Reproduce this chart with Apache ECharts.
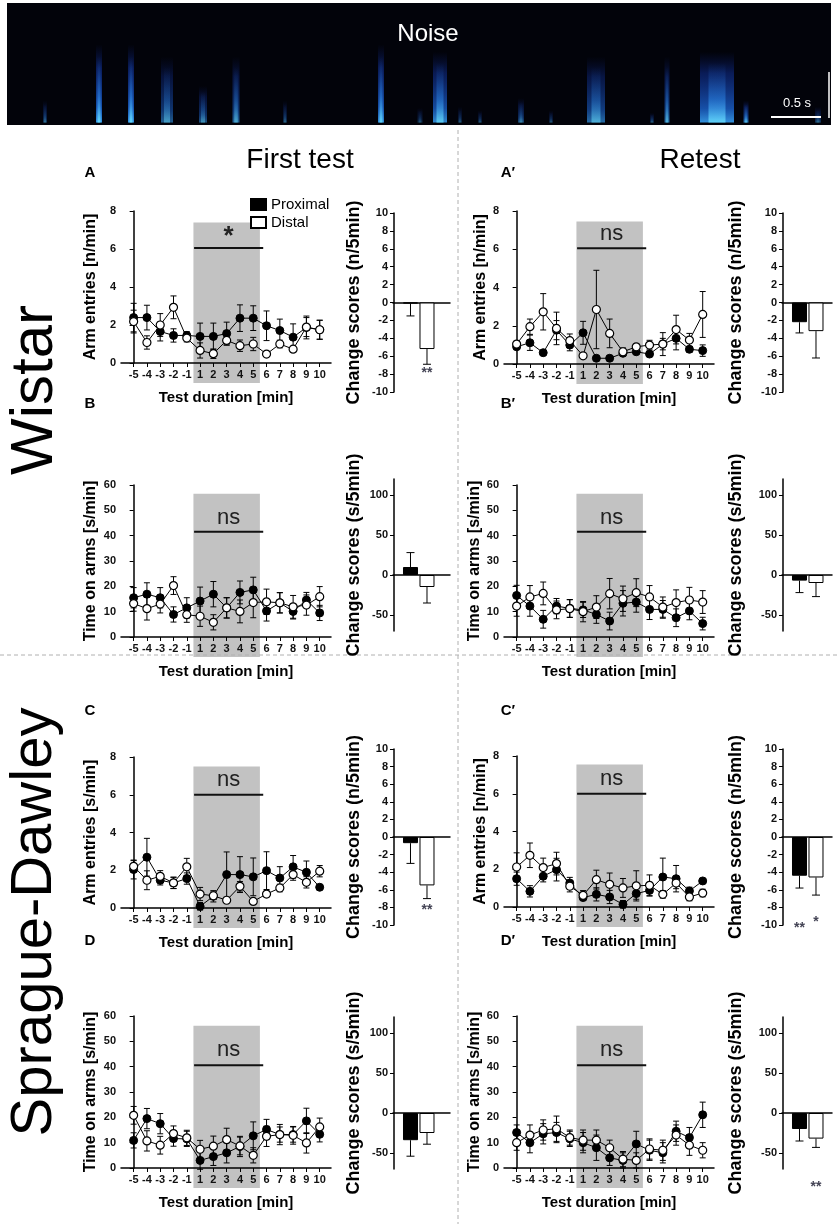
<!DOCTYPE html>
<html><head><meta charset="utf-8">
<script src="https://cdn.jsdelivr.net/npm/echarts@6/dist/echarts.min.js"></script>
<style>html,body{margin:0;padding:0;background:#fff}#c{width:838px;height:1224px}</style>
</head><body><div id="c"></div>
<script>
// ---------- DATA ----------
const xLabels = ['-5','-4','-3','-2','-1','1','2','3','4','5','6','7','8','9','10'];
const barCats = ['Proximal','Distal'];

// A – Wistar, first test, arm entries
const aProx    = [2.39,2.39,1.66,1.45,1.45,1.40,1.40,1.55,2.36,2.36,1.96,1.71,1.36,1.87,1.75];
const aProxErr = [0.75,0.65,0.50,0.35,0.20,0.70,0.70,0.60,0.70,0.65,0.78,0.60,0.70,0.60,0.50];
const aDist    = [2.18,1.08,2.00,2.93,1.31,0.66,0.49,1.19,0.91,1.00,0.47,1.00,0.73,1.89,1.75];
const aDistErr = [0.60,0.35,0.60,0.60,0.20,0.40,0.25,0.25,0.30,0.35,0.10,0.20,0.15,0.50,0.50];
// A' – Wistar, retest, arm entries
const a2Prox    = [0.90,1.11,0.59,1.77,0.99,1.63,0.30,0.30,0.56,0.64,0.52,1.04,1.34,0.77,0.70];
const a2ProxErr = [0.10,0.40,0.05,0.50,0.30,0.60,0.05,0.05,0.10,0.10,0.10,0.30,0.60,0.15,0.30];
const a2Dist    = [1.04,1.95,2.73,1.86,1.22,0.43,2.85,1.60,0.64,0.90,0.99,1.04,1.80,1.25,2.59];
const a2DistErr = [0.15,0.40,0.95,0.85,0.35,0.10,2.05,0.75,0.20,0.15,0.25,0.60,0.75,0.35,1.20];
// B – Wistar, first test, time on arms
const bProx    = [15.5,16.9,15.5,8.9,11.5,14.2,16.9,11.5,17.6,18.6,10.3,13.5,10.1,14.6,9.5];
const bProxErr = [4,4.5,4,3,4,5.5,5,4,4.5,5,4,4,3,3,3];
const bDist    = [13.2,11.2,13.0,20.3,8.8,8.2,5.8,11.5,10.1,13.6,13.9,13.5,11.9,12.6,15.9];
const bDistErr = [3,4.5,3.5,3.5,3,4,3,4,4.5,6,5,4,4.5,4,4];
// B' – Wistar, retest, time on arms
const b2Prox    = [16.4,12.2,7.0,12.2,11.3,10.7,8.9,6.3,13.3,13.8,10.9,10.9,7.6,10.3,5.3];
const b2ProxErr = [4,4,3.5,3,3.5,3,3.5,3.5,5,4,4,3.5,3.5,3.5,2.5];
const b2Dist    = [12.2,15.8,17.2,10.7,11.2,10.0,11.8,17.1,15.1,17.5,15.8,11.8,13.6,14.6,13.8];
const b2DistErr = [4,4.5,4.5,3.5,3.5,4,4.5,6,5,5.5,4.5,4,5,5,4.5];
// C – Sprague-Dawley, first test, arm entries
const cProx    = [2.04,2.69,1.47,1.33,1.56,0.09,0.62,1.77,1.77,1.65,1.98,1.59,2.18,1.89,1.10];
const cProxErr = [0.50,1.00,0.25,0.30,0.30,0.20,0.30,1.20,0.95,1.00,1.00,0.60,0.60,0.60,0.10];
const cDist    = [2.21,1.47,1.68,1.33,2.18,0.74,0.65,0.41,1.15,0.35,0.74,1.06,1.77,1.36,1.95];
const cDistErr = [0.30,0.50,0.30,0.30,0.45,0.35,0.20,0.10,0.25,0.10,0.15,0.20,0.30,0.30,0.30];
// C' – Sprague-Dawley, retest, arm entries
const c2Prox    = [1.50,0.83,1.63,1.98,1.27,0.50,0.67,0.53,0.14,0.71,0.88,1.59,1.50,0.85,1.38];
const c2ProxErr = [0.35,0.30,0.30,0.60,0.30,0.10,0.35,0.35,0.20,0.30,0.30,1.00,0.70,0.20,0.10];
const c2Dist    = [2.12,2.74,2.09,2.30,1.10,0.62,1.45,1.20,1.01,1.12,1.15,0.67,1.27,0.53,0.74];
const c2DistErr = [0.75,0.65,0.50,0.60,0.30,0.25,0.50,0.60,0.50,0.80,0.55,0.20,0.30,0.20,0.20];
// D – Sprague-Dawley, first test, time on arms
const dProx    = [10.9,19.5,17.5,11.6,11.5,3.0,4.5,6.0,8.5,12.7,15.2,13.2,13.2,18.6,13.3];
const dProxErr = [3,4,4,3,3,3.5,3.5,4,4,5.5,4,3,3,5,3];
const dDist    = [20.8,10.7,9.0,13.6,11.9,7.4,8.6,11.2,8.7,5.0,12.5,13.2,12.9,9.9,16.2];
const dDistErr = [3.5,4,3.5,3,3,3.5,4,4.5,3.5,3,4,4,3.5,4,3.5];
// D' – Sprague-Dawley, retest, time on arms
const d2Prox    = [14,10,13.5,14,11.5,10,8,4,3,9.5,7,6,14.5,12,21];
const d2ProxErr = [3,4,4,4,3,4,5,3,3,5,4,4,4,4,5];
const d2Dist    = [10,13,15,15.5,12,11,11,8,3.5,3,7.5,7,13,9,7];
const d2DistErr = [3,4,4,5,3,4,4,3,3,3,4,4,4,4,3];

// Change scores [Proximal, Distal]
const aChange  = [-0.1,-5.2];  const aChangeErr  = [1.4,1.7];  const aStars  = ['','**'];
const a2Change = [-2.2,-3.2];  const a2ChangeErr = [1.2,3.0];  const a2Stars = ['',''];
const bChange  = [10,-15];     const bChangeErr  = [18,20];    const bStars  = ['',''];
const b2Change = [-7,-10];     const b2ChangeErr = [15,17];    const b2Stars = ['',''];
const cChange  = [-0.7,-5.5];  const cChangeErr  = [2.3,1.5];  const cStars  = ['','**'];
const c2Change = [-4.4,-4.6];  const c2ChangeErr = [1.4,2.0];  const c2Stars = ['**','*'];
const dChange  = [-34,-25];    const dChangeErr  = [20,14];    const dStars  = ['',''];
const d2Change = [-20,-32];    const d2ChangeErr = [15,11];    const d2Stars = ['','**'];

const sigLabels = ['*','ns','ns','ns','ns','ns','ns','ns'];
const countTicks = [0,2,4,6,8];
const timeTicks = [0,10,20,30,40,50,60];
const changeCountTicks = [-10,-8,-6,-4,-2,0,2,4,6,8,10];
const changeTimeTicks = [-50,0,50,100];

// Spectrogram bursts: time (s), width (s), upper frequency fraction, intensity
const burstTime  = [0.38,0.92,1.24,1.60,1.96,2.29,2.78,3.74,4.13,4.33,4.53,4.73,5.14,5.44,5.89,6.45,6.60,7.10,7.39,8.11];
const burstWidth = [0.04,0.06,0.06,0.12,0.08,0.07,0.04,0.06,0.05,0.14,0.04,0.04,0.06,0.04,0.18,0.04,0.05,0.34,0.05,0.06];
const burstTop   = [0.20,0.66,0.66,0.56,0.32,0.56,0.20,0.66,0.14,0.60,0.15,0.12,0.22,0.12,0.56,0.10,0.56,0.60,0.20,0.15];
const burstLevel = [0.40,1.00,1.00,0.60,0.55,0.65,0.35,0.95,0.30,0.90,0.30,0.30,0.50,0.30,0.70,0.35,0.70,0.95,0.80,0.40];

// ---------- BUILD ----------
const FONT = '"Liberation Sans", Arial, sans-serif';
const grids=[], xAxes=[], yAxes=[], series=[];
const idx = xLabels.map((_,i)=>i);

function errRender(p, api){
  const x=api.value(0), y=api.value(1), e=api.value(2);
  const a=api.coord([x,y+e]), b=api.coord([x,y-e]);
  return {type:'group', children:[
    {type:'line', shape:{x1:a[0],y1:a[1],x2:b[0],y2:b[1]}, style:{stroke:'#000',lineWidth:1}},
    {type:'line', shape:{x1:a[0]-3,y1:a[1],x2:a[0]+3,y2:a[1]}, style:{stroke:'#000',lineWidth:1}},
    {type:'line', shape:{x1:b[0]-3,y1:b[1],x2:b[0]+3,y2:b[1]}, style:{stroke:'#000',lineWidth:1}}
  ]};
}

function addLinePanel(c, k){
  const gi = grids.length;
  grids.push({left:c.left, top:c.top, width:210, height:c.height});
  xAxes.push({gridIndex:gi, type:'value', min:-0.95, max:14.85,
    axisLine:{show:true, onZero:false, lineStyle:{color:'#000', width:1.5}},
    axisTick:{show:true, customValues:idx, length:4, lineStyle:{color:'#000'}},
    axisLabel:{show:true, customValues:idx, formatter:v=>xLabels[Math.round(v)], fontSize:11, fontWeight:'bold', color:'#111', margin:6, fontFamily:FONT},
    splitLine:{show:false},
    name:'Test duration [min]', nameLocation:'middle', nameGap:27,
    nameTextStyle:{fontSize:15, fontWeight:'bold', color:'#000', fontFamily:FONT}});
  yAxes.push({gridIndex:gi, type:'value', min:0, max:c.ticks[c.ticks.length-1],
    axisLine:{show:true, lineStyle:{color:'#000', width:1.5}},
    axisTick:{show:true, customValues:c.ticks, length:4, lineStyle:{color:'#000'}},
    axisLabel:{show:true, customValues:c.ticks, fontSize:11, fontWeight:'bold', color:'#111', margin:5, fontFamily:FONT},
    splitLine:{show:false},
    name:c.title, nameLocation:'middle', nameGap:c.nameGap,
    nameTextStyle:{fontSize:16, fontWeight:'bold', color:'#000', fontFamily:FONT}});
  // shaded noise period
  series.push({type:'custom', xAxisIndex:gi, yAxisIndex:gi, z:-1, silent:true, clip:false,
    data:[[4.5, 9.5, c.shadeTop]],
    renderItem:(p,api)=>{
      const a=api.coord([api.value(0), api.value(2)]), b=api.coord([api.value(1), 0]);
      return {type:'rect', shape:{x:a[0], y:a[1], width:b[0]-a[0], height:b[1]-a[1]+20}, style:{fill:'#c2c2c2'}};
    }});
  // significance line + label
  series.push({type:'custom', xAxisIndex:gi, yAxisIndex:gi, z:4, silent:true, clip:false,
    data:[[4.55, 9.75, c.sigY, c.sigTextY]],
    renderItem:(p,api)=>{
      const a=api.coord([api.value(0), api.value(2)]), b=api.coord([api.value(1), api.value(2)]);
      const t=api.coord([(api.value(0)+api.value(1))/2, api.value(3)]);
      const lab = sigLabels[k];
      return {type:'group', children:[
        {type:'line', shape:{x1:a[0],y1:a[1],x2:b[0],y2:b[1]}, style:{stroke:'#111',lineWidth:2}},
        {type:'text', style:{text:lab, x:t[0], y:t[1], align:'center', verticalAlign:'middle', fill:'#222',
          font: lab==='*' ? 'bold 26px '+FONT : '22px '+FONT}}
      ]};
    }});
  const mk = (arr, err, filled) => {
    series.push({type:'custom', xAxisIndex:gi, yAxisIndex:gi, z:2, silent:true, clip:false,
      data:arr.map((v,i)=>[i, v, err[i]]), renderItem:errRender});
    series.push({type:'line', name:(filled?'prox ':'dist ')+k, xAxisIndex:gi, yAxisIndex:gi, z:3,
      data:arr.map((v,i)=>[i,v]), symbol:'circle', symbolSize:8, showSymbol:true,
      lineStyle:{color:'#000', width:1},
      itemStyle: filled ? {color:'#000', borderColor:'#000', borderWidth:1} : {color:'#fff', borderColor:'#000', borderWidth:1.2}});
  };
  mk(c.prox, c.proxErr, true);
  mk(c.dist, c.distErr, false);
}

function addBarPanel(c){
  const gi = grids.length;
  grids.push({left:c.left, top:c.top, width:c.width, height:c.height});
  xAxes.push({gridIndex:gi, type:'value', min:-0.06, max:-0.06 + c.width/16.5,
    axisLine:{show:true, onZero:true, lineStyle:{color:'#000', width:1.5}},
    axisTick:{show:false}, axisLabel:{show:false}, splitLine:{show:false}});
  yAxes.push({gridIndex:gi, type:'value', min:c.ymin, max:c.ymax,
    axisLine:{show:true, lineStyle:{color:'#000', width:1.5}},
    axisTick:{show:true, customValues:c.ticks, length:4, lineStyle:{color:'#000'}},
    axisLabel:{show:true, customValues:c.ticks, fontSize:11, fontWeight:'bold', color:'#111', margin:5, fontFamily:FONT},
    splitLine:{show:false},
    name:c.title, nameLocation:'middle', nameGap:c.nameGap,
    nameTextStyle:{fontSize:18, fontWeight:'bold', color:'#000', fontFamily:FONT}});
  series.push({type:'bar', name:barCats[0], xAxisIndex:gi, yAxisIndex:gi, barWidth:15, barGap:'-100%', z:2,
    data:[[1, c.vals[0]]], itemStyle:{color:'#000', borderColor:'#000', borderWidth:1}});
  series.push({type:'bar', name:barCats[1], xAxisIndex:gi, yAxisIndex:gi, barWidth:15, barGap:'-100%', z:2,
    data:[[2, c.vals[1]]], itemStyle:{color:'#fff', borderColor:'#000', borderWidth:1}});
  series.push({type:'custom', xAxisIndex:gi, yAxisIndex:gi, z:3, silent:true, clip:false,
    data:c.vals.map((v,i)=>[i+1, v, c.errs[i], c.starY[i]]),
    renderItem:(p,api)=>{
      const x=api.value(0), v=api.value(1), e=api.value(2);
      const end = v>=0 ? v+e : v-e;
      const a=api.coord([x,v]), b=api.coord([x,end]);
      const ch=[{type:'line', shape:{x1:a[0],y1:a[1],x2:b[0],y2:b[1]}, style:{stroke:'#000',lineWidth:1}},
                {type:'line', shape:{x1:b[0]-4,y1:b[1],x2:b[0]+4,y2:b[1]}, style:{stroke:'#000',lineWidth:1}}];
      const s = c.stars[p.dataIndex];
      if (s) {
        const t = api.coord([x, api.value(3)]);
        ch.push({type:'text', style:{text:s, x:t[0], y:t[1], align:'center', verticalAlign:'middle', fill:'#445', font:'bold 14px '+FONT}});
      }
      return {type:'group', children:ch};
    }});
}

const linePanels = [
  {left:121, top:211, height:152, ticks:countTicks, title:'Arm entries [n/min]', nameGap:22, shadeTop:7.4, sigY:6.05, sigTextY:6.65, prox:aProx, proxErr:aProxErr, dist:aDist, distErr:aDistErr},
  {left:504, top:211, height:153, ticks:countTicks, title:'Arm entries [n/min]', nameGap:15, shadeTop:7.45, sigY:6.05, sigTextY:6.8, prox:a2Prox, proxErr:a2ProxErr, dist:a2Dist, distErr:a2DistErr},
  {left:121, top:485, height:152, ticks:timeTicks, title:'Time on arms [s/min]', nameGap:22, shadeTop:56.5, sigY:41.5, sigTextY:47, prox:bProx, proxErr:bProxErr, dist:bDist, distErr:bDistErr},
  {left:504, top:485, height:152, ticks:timeTicks, title:'Time on arms [s/min]', nameGap:14, shadeTop:56.5, sigY:41.5, sigTextY:47, prox:b2Prox, proxErr:b2ProxErr, dist:b2Dist, distErr:b2DistErr},
  {left:121, top:757, height:151, ticks:countTicks, title:'Arm entries [s/min]', nameGap:22, shadeTop:7.5, sigY:6.0, sigTextY:6.8, prox:cProx, proxErr:cProxErr, dist:cDist, distErr:cDistErr},
  {left:504, top:756, height:151, ticks:countTicks, title:'Arm entries [n/min]', nameGap:15, shadeTop:7.55, sigY:6.0, sigTextY:6.8, prox:c2Prox, proxErr:c2ProxErr, dist:c2Dist, distErr:c2DistErr},
  {left:121, top:1016, height:152, ticks:timeTicks, title:'Time on arms [s/min]', nameGap:22, shadeTop:56.2, sigY:40.6, sigTextY:46.6, prox:dProx, proxErr:dProxErr, dist:dDist, distErr:dDistErr},
  {left:504, top:1016, height:152, ticks:timeTicks, title:'Time on arms [s/min]', nameGap:14, shadeTop:56.2, sigY:40.6, sigTextY:46.6, prox:d2Prox, proxErr:d2ProxErr, dist:d2Dist, distErr:d2DistErr}
];
const barPanels = [
  {left:393, top:213, width:57, height:179, ymin:-10, ymax:10, ticks:changeCountTicks, title:'Change scores (n/5min)', nameGap:30, vals:aChange, errs:aChangeErr, stars:aStars, starY:[0,-7.9]},
  {left:782, top:213, width:50, height:179, ymin:-10, ymax:10, ticks:changeCountTicks, title:'Change scores (n/5min)', nameGap:37, vals:a2Change, errs:a2ChangeErr, stars:a2Stars, starY:[0,0]},
  {left:393, top:479, width:57, height:152, ymin:-70, ymax:120, ticks:changeTimeTicks, title:'Change scores (s/5min)', nameGap:30, vals:bChange, errs:bChangeErr, stars:bStars, starY:[0,0]},
  {left:782, top:479, width:50, height:152, ymin:-70, ymax:120, ticks:changeTimeTicks, title:'Change scores (s/5min)', nameGap:37, vals:b2Change, errs:b2ChangeErr, stars:b2Stars, starY:[0,0]},
  {left:393, top:749, width:57, height:176, ymin:-10, ymax:10, ticks:changeCountTicks, title:'Change scores (n/5min)', nameGap:30, vals:cChange, errs:cChangeErr, stars:cStars, starY:[0,-8.3]},
  {left:782, top:749, width:50, height:176, ymin:-10, ymax:10, ticks:changeCountTicks, title:'Change scores (n/5mln)', nameGap:37, vals:c2Change, errs:c2ChangeErr, stars:c2Stars, starY:[-10.4,-9.7]},
  {left:393, top:1017, width:57, height:152, ymin:-70, ymax:120, ticks:changeTimeTicks, title:'Change scores (s/5min)', nameGap:30, vals:dChange, errs:dChangeErr, stars:dStars, starY:[0,0]},
  {left:782, top:1017, width:50, height:152, ymin:-70, ymax:120, ticks:changeTimeTicks, title:'Change scores (s/5min)', nameGap:37, vals:d2Change, errs:d2ChangeErr, stars:d2Stars, starY:[0,-93]}
];

barPanels.forEach(c=>addBarPanel(c));
linePanels.forEach((c,k)=>addLinePanel(c,k));

// spectrogram
{
  const gi = grids.length;
  grids.push({left:7, top:3, width:824, height:122, show:true, backgroundColor:'#02030a', borderWidth:0});
  xAxes.push({gridIndex:gi, type:'value', min:0, max:8.24, show:false});
  yAxes.push({gridIndex:gi, type:'value', min:0, max:1, show:false});
  series.push({type:'custom', xAxisIndex:gi, yAxisIndex:gi, silent:true, z:1,
    data:burstTime.map((t,i)=>[t, burstWidth[i], burstTop[i], burstLevel[i]]),
    renderItem:(p,api)=>{
      const t=api.value(0), w=api.value(1), h=api.value(2), k=api.value(3);
      const a=api.coord([t-w/2, h]), b=api.coord([t+w/2, 0.02]);
      const c0=api.coord([t-w/4, h*0.85]), c1=api.coord([t+w/4, 0.02]);
      const wid=Math.max(4,b[0]-a[0]), cw=Math.max(2,c1[0]-c0[0]);
      const mid=(a[0]+b[0])/2;
      return {type:'group', children:[
        {type:'rect', shape:{x:mid-wid/2, y:a[1], width:wid, height:b[1]-a[1]},
          style:{fill:new echarts.graphic.LinearGradient(0,0,0,1,[
            {offset:0, color:'rgba(15,40,150,0)'},
            {offset:0.3, color:'rgba(20,60,190,'+(0.45*k)+')'},
            {offset:0.8, color:'rgba(30,110,230,'+(0.75*k)+')'},
            {offset:1, color:'rgba(60,170,255,'+(0.9*k)+')'}])}},
        {type:'rect', shape:{x:mid-cw/2, y:c0[1], width:cw, height:c1[1]-c0[1]},
          style:{fill:new echarts.graphic.LinearGradient(0,0,0,1,[
            {offset:0, color:'rgba(40,120,240,0)'},
            {offset:0.6, color:'rgba(50,150,250,'+(0.45*k)+')'},
            {offset:1, color:'rgba(110,230,255,'+(0.8*k)+')'}])}}
      ]};
    }});
}

const txt = (x,y,text,font,extra) => Object.assign({type:'text', x, y, style:{text, font, fill:'#000', align:'center', verticalAlign:'middle'}}, extra||{});
const graphic = [
  {type:'line', shape:{x1:458,y1:130,x2:458,y2:1224}, style:{stroke:'#b0b0b0', lineWidth:1, lineDash:[4,3]}},
  {type:'line', shape:{x1:0,y1:655,x2:838,y2:655}, style:{stroke:'#b0b0b0', lineWidth:1, lineDash:[4,3]}},
  {type:'text', x:428, y:34, z:10, style:{text:'Noise', font:'24px '+FONT, fill:'#fff', align:'center', verticalAlign:'middle'}},
  {type:'line', z:10, shape:{x1:771,y1:117,x2:821,y2:117}, style:{stroke:'#fff', lineWidth:2}},
  {type:'line', z:10, shape:{x1:829,y1:72,x2:829,y2:118}, style:{stroke:'#fff', lineWidth:1.5}},
  {type:'text', x:797, y:103, z:10, style:{text:'0.5 s', font:'13px '+FONT, fill:'#fff', align:'center', verticalAlign:'middle'}},
  txt(300,160,'First test','28px '+FONT),
  txt(700,160,'Retest','28px '+FONT),
  txt(90,173,'A','bold 15px '+FONT), txt(508,173,'A′','bold 15px '+FONT),
  txt(90,404,'B','bold 15px '+FONT), txt(508,404,'B′','bold 15px '+FONT),
  txt(90,711,'C','bold 15px '+FONT), txt(508,711,'C′','bold 15px '+FONT),
  txt(90,941,'D','bold 15px '+FONT), txt(508,941,'D′','bold 15px '+FONT),
  txt(35,390,'Wistar','60px '+FONT,{rotation:Math.PI/2}),
  txt(35,922,'Sprague-Dawley','58px '+FONT,{rotation:Math.PI/2})
];

const chart = echarts.init(document.getElementById('c'), null, {renderer:'canvas'});
chart.setOption({
  animation:false,
  backgroundColor:'#fff',
  grid:grids, xAxis:xAxes, yAxis:yAxes, series:series, graphic:graphic,
  legend:{left:245, top:192, orient:'vertical', icon:'rect', itemWidth:15, itemHeight:11, itemGap:3,
    selectedMode:false, data:barCats, textStyle:{fontSize:15, color:'#000', fontFamily:FONT}}
});
</script></body></html>
